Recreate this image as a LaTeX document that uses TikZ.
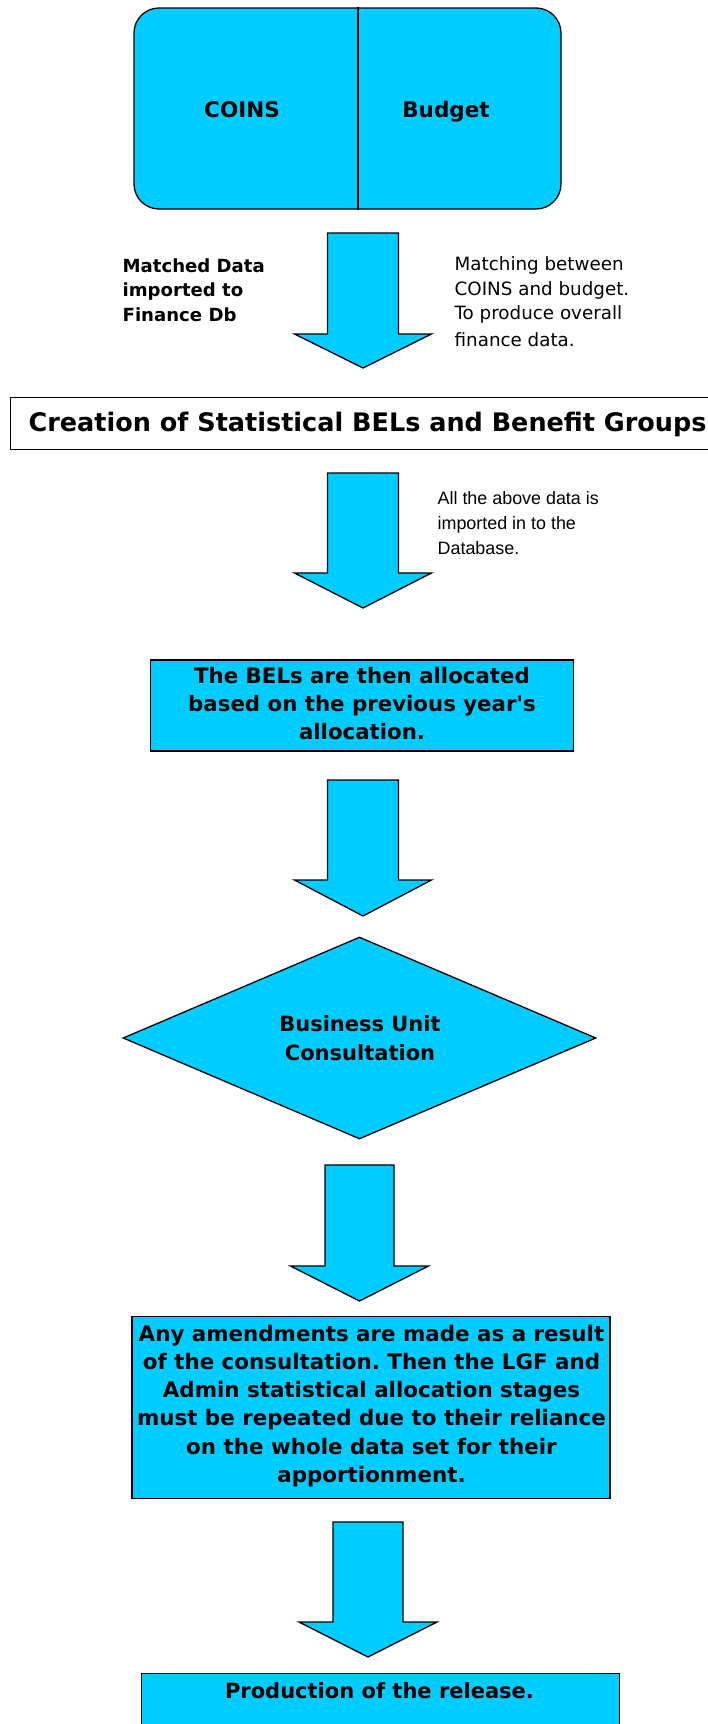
\documentclass[tikz,border=0pt]{standalone}
\usepackage{fontspec}
\setmainfont{DejaVu Sans}[Ligatures=TeXOff]
\newfontfamily\ari{Liberation Sans}
\usetikzlibrary{shapes.geometric,calc}
\definecolor{cy}{RGB}{0,204,255}
\newcommand\blockarr[7]{% name, cx, top, shaft half, shaft bottom, head half, tip
  \draw[arr] (#2-#4,#3) -- (#2+#4,#3) -- (#2+#4,#5) -- (#2+#6,#5) -- (#2,#7)
    -- (#2-#6,#5) -- (#2-#4,#5) -- cycle;
  \coordinate (#1) at (#2,#7);}
\frenchspacing
\begin{document}
\begin{tikzpicture}[x=1pt,y=-1pt,line width=1.3pt,
  arr/.style={draw=black,fill=cy,line join=miter},
  box/.style={draw=black,fill=cy,inner sep=0pt},
  tb/.style={font=\bfseries\fontsize{21.3}{28}\selectfont,align=center,inner sep=0pt},
  vb/.style={font=\bfseries\fontsize{21.4}{28.1}\selectfont,align=center,inner sep=0pt}]
\useasboundingbox (0,0) rectangle (708,1724);
\clip (0,0) rectangle (708,1724);
% top box
\node[box,rounded corners=25pt,minimum width=427pt,minimum height=201pt] (top) at (347.5,108.5) {};
\draw ($(top.north)+(10.5,0)$) -- ($(top.south)+(10.5,0)$);
\node[font=\bfseries\fontsize{21.5}{28}\selectfont,inner sep=0pt,anchor=base] (coins) at (242,117) {COINS};
\node[font=\bfseries\fontsize{21.5}{28}\selectfont,inner sep=0pt,anchor=base] (budget) at (446,117) {Budget};
% arrow 1
\blockarr{a1}{363}{233}{35.5}{334}{68.5}{368}
\node[font=\bfseries\fontsize{18.1}{24.6}\selectfont,align=left,inner sep=0pt,anchor=west] (matched) at (122,290) {Matched Data\\imported to\\Finance Db};
\node[font=\fontsize{18.3}{24.4}\selectfont,align=left,inner sep=0pt,anchor=west] (matching) at (454,302) {Matching between\\COINS and budget.\\To produce overall\\[2.5pt]finance data.};
% creation box
\node[draw=black,fill=white,minimum width=702pt,minimum height=52pt,anchor=north west,inner sep=0pt] (creation) at (10,397) {};
\node[font=\bfseries\fontsize{25.5}{30}\selectfont,inner sep=0pt,anchor=west] (ctext) at (28,424) {Creation of Statistical BELs and Benefit Groups};
% arrow 2
\blockarr{a2}{363}{473}{35.5}{573}{68.5}{608}
\node[font=\ari\fontsize{17.9}{25}\selectfont,align=left,inner sep=0pt,anchor=west] (allabove) at (437,523) {All the above data is\\imported in to the\\Database.};
% BELs box
\node[box,minimum width=423pt,minimum height=91pt] (bels) at (362,705.5) {};
\node[tb] (belstext) at (362,704) {The BELs are then allocated\\based on the previous year's\\allocation.};
% arrow 3
\blockarr{a3}{363}{780}{35.5}{880}{68.5}{916}
% diamond
\node[diamond,draw=black,fill=cy,minimum width=473pt,minimum height=202pt,inner sep=0pt] (bu) at (359.5,1038) {};
\node[font=\bfseries\fontsize{21}{29}\selectfont,align=center,inner sep=0pt] (butext) at (360,1038) {Business Unit\\Consultation};
% arrow 4
\blockarr{a4}{359.5}{1165}{34.5}{1266}{69}{1301}
% amendments box
\node[box,minimum width=478pt,minimum height=182pt] (amend) at (371,1407.5) {};
\node[vb] (amendtext) at (371.5,1406) {Any amendments are made as a result\\of the consultation. Then the LGF and\\Admin statistical allocation stages\\must be repeated due to their reliance\\on the whole data set for their\\apportionment.};
% arrow 5
\blockarr{a5}{368}{1522}{35}{1622}{69}{1657}
% release box
\node[box,minimum width=478pt,minimum height=80pt,anchor=north west] (release) at (140.5,1673) {};
\node[font=\bfseries\fontsize{21}{24}\selectfont,inner sep=0pt] (reltext) at (379.5,1691) {Production of the release.};
\end{tikzpicture}
\end{document}
